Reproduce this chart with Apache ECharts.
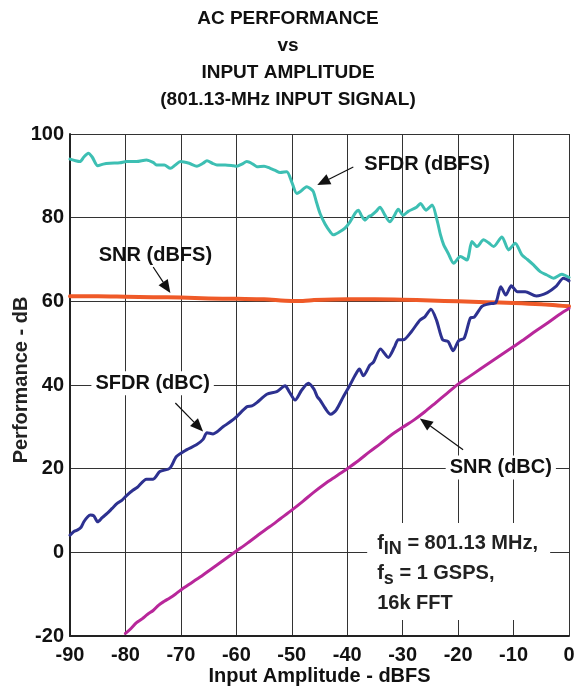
<!DOCTYPE html>
<html>
<head>
<meta charset="utf-8">
<script src="https://cdn.jsdelivr.net/npm/echarts@6/dist/echarts.min.js"></script>
<style>
html, body { margin: 0; padding: 0; background: #fff; }
#chart { width: 576px; height: 689px; }
</style>
</head>
<body>
<div id="chart"></div>
<script>
// values: [input amplitude dBFS, performance dB]
const sfdrDbfs = [
  [-90, 94.0], [-89, 93.6], [-88.2, 93.4], [-87.5, 94.5], [-86.7, 95.4], [-86, 94.5], [-85, 92.4],
  [-84, 92.8], [-82.8, 93.0], [-81, 93.1], [-79.8, 93.4], [-78, 93.4], [-76.2, 93.8], [-75, 93.2],
  [-74.4, 92.6], [-73, 92.6], [-71.9, 91.8], [-71, 92.6], [-70.1, 93.4], [-68.5, 93.0], [-67.1, 92.3],
  [-66, 93.0], [-65.3, 93.6], [-64.3, 93.0], [-63.5, 92.6], [-62, 92.6], [-60.5, 92.4], [-59.9, 92.3],
  [-59, 92.8], [-58.1, 93.4], [-57, 92.8], [-56.3, 92.2], [-55, 92.3], [-53.9, 91.8], [-53, 91.3],
  [-52.1, 90.8], [-50.9, 91.0], [-50, 88.5], [-49.1, 85.8], [-48.5, 86.2], [-47.3, 87.4], [-46.5, 86.8],
  [-46.1, 86.2], [-45.5, 83.5], [-44.9, 81.0], [-44, 78.5], [-43, 76.5], [-42.5, 75.9], [-41.5, 76.5],
  [-40.4, 77.5], [-39.5, 79], [-38.5, 81.2], [-38.0, 81.8], [-37.4, 80.4], [-36.8, 79.4], [-36.2, 80.2],
  [-35.6, 80.6], [-34.8, 81.5], [-34.1, 82.5], [-33.2, 80.6], [-32.3, 79.0], [-31.5, 80.5], [-30.8, 82.0],
  [-29.9, 80.6], [-29, 81.5], [-27.5, 82.5], [-26.8, 83.4], [-25.8, 81.8], [-24.7, 83.0], [-23.8, 79.4],
  [-23.2, 76], [-22.6, 73.5], [-21.8, 71.5], [-20.8, 69.1], [-19.6, 70.7], [-18.4, 69.9], [-17.5, 74.3],
  [-16.6, 73.1], [-15.4, 74.7], [-14.5, 74], [-13.6, 73.1], [-12.1, 75.4], [-10.9, 72.3], [-9.7, 73.9],
  [-8.5, 71.1], [-7.5, 70], [-6.4, 68.7], [-5.2, 67.1], [-4, 66.3], [-2.8, 65.5], [-1.3, 66.5], [0, 65.7]
];
const snrDbfs = [
  [-90, 61.2], [-85, 61.2], [-80, 61.1], [-75, 61.0], [-70, 60.9], [-65, 60.7], [-60, 60.6], [-55, 60.5],
  [-50, 60.1], [-48, 60.1], [-46, 60.3], [-40, 60.5], [-35, 60.5], [-30, 60.4], [-25, 60.2], [-20, 60.0],
  [-15, 59.8], [-10, 59.6], [-5, 59.3], [-2, 59.0], [0, 58.8]
];
const sfdrDbc = [
  [-90, 4.1], [-89.3, 5.0], [-88.7, 5.3], [-88, 6.0], [-87.5, 7.3], [-86.8, 8.5], [-86.3, 8.9], [-85.7, 8.7],
  [-85, 7.3], [-84.2, 8.3], [-83.3, 9.3], [-82.4, 10.5], [-81.5, 11.7], [-80.6, 12.5], [-79.7, 13.7],
  [-78.6, 14.9], [-77.9, 15.5], [-76.2, 17.5], [-75, 17.5], [-73.8, 19.3], [-72, 20.1], [-70.8, 22.9],
  [-69, 24.5], [-67.2, 25.7], [-66, 27], [-65.3, 28.6], [-64.2, 28.3], [-62.4, 30.0], [-60.3, 32.0],
  [-58.1, 34.8], [-57.2, 35.0], [-56.3, 35.8], [-54.5, 37.8], [-52.7, 38.4], [-51.2, 39.8], [-50.5, 38.5],
  [-49.4, 36.4], [-48.2, 38.8], [-47.0, 40.4], [-46, 39], [-45.4, 37.2], [-44.9, 36.4], [-44, 34.5],
  [-43.0, 33.0], [-42, 34.0], [-40.7, 37.2], [-39.5, 40.0], [-38.5, 42.5], [-37.8, 43.8], [-37.1, 42.2],
  [-35.9, 44.8], [-35.3, 45.4], [-34.0, 48.6], [-32.6, 46.6], [-31.5, 49], [-30.8, 50.8], [-29.9, 50.8],
  [-28.4, 52.8], [-26.9, 55.5], [-26.0, 56.3], [-24.9, 58.1], [-23.9, 55.5], [-22.8, 50.8], [-21.8, 50.4],
  [-20.9, 48.2], [-19.9, 50.6], [-18.9, 51.2], [-17.8, 56.0], [-17.1, 56.2], [-15.7, 58.8], [-14.4, 59.4],
  [-13.2, 59.7], [-12.3, 63.5], [-11.4, 61.5], [-10.4, 63.7], [-9.3, 62.3], [-7.9, 62.3], [-5.9, 61.3],
  [-3.9, 62.1], [-2.4, 63.5], [-1.0, 65.5], [0, 64.9]
];
const snrDbc = [
  [-80, -19.4], [-79, -18.2], [-78, -16.8], [-77, -15.9], [-76, -14.8], [-75, -13.9], [-74, -12.6],
  [-73, -11.7], [-72, -10.9], [-71, -10.0], [-70, -9.0], [-68, -7.2], [-66, -5.4], [-64, -3.5], [-62, -1.6],
  [-60, 0.3], [-58, 2.2], [-56, 4.2], [-54, 6.1], [-52, 8.1], [-50, 10.1], [-48, 12.2], [-46, 14.4],
  [-44, 16.4], [-42, 18.2], [-40, 20.0], [-38, 21.9], [-36, 24.0], [-34, 26.0], [-32, 28.1], [-30, 29.9],
  [-28, 31.6], [-26, 33.6], [-24, 35.8], [-22, 38.0], [-20, 40.2], [-18, 42.0], [-16, 43.8], [-14, 45.6],
  [-12, 47.4], [-10, 49.2], [-8, 51.0], [-6, 52.9], [-4, 54.7], [-2, 56.6], [-1, 57.5], [0, 58.3]
];

const xRange = [-90, 0, 10];
const yRange = [-20, 100, 20];

// curve labels: text, label centre, arrow start, arrow tip (data coords)
const callouts = [
  { text: 'SFDR (dBFS)', at: [-25.6, 92.8], from: [-38.9, 92.1], to: [-45.4, 87.8], bg: false },
  { text: 'SNR (dBFS)', at: [-74.6, 71.0], from: [-75.0, 68.2], to: [-71.9, 62.0], bg: false },
  { text: 'SFDR (dBC)', at: [-75.1, 40.4], from: [-71.0, 35.7], to: [-66.0, 28.9], bg: true },
  { text: 'SNR (dBC)', at: [-12.3, 20.3], from: [-19.1, 24.5], to: [-26.9, 32.0], bg: true }
];
const noteBox = [[-36.4, 7.0], [-3.4, -16.2]];
const noteAt = [-34.6, 2.2];

const FONT = "'Liberation Sans', Arial, Helvetica, sans-serif";

function lineSeries(name, data, color, width, smooth) {
  return {
    name: name,
    type: 'line',
    data: data,
    showSymbol: false,
    smooth: smooth,
    lineStyle: { color: color, width: width, cap: 'round', join: 'round' },
    z: 3
  };
}

const option = {
  backgroundColor: '#fff',
  animation: false,
  title: {
    text: 'AC PERFORMANCE\nvs\nINPUT AMPLITUDE\n(801.13-MHz INPUT SIGNAL)',
    left: 'center',
    top: 0,
    textStyle: { fontFamily: FONT, fontSize: 19, fontWeight: 'bold', color: '#111', lineHeight: 27 }
  },
  grid: { left: 70, right: 7, top: 134, bottom: 53, outerBoundsMode: 'none', containLabel: false },
  xAxis: {
    type: 'value',
    min: xRange[0],
    max: xRange[1],
    interval: xRange[2],
    name: 'Input Amplitude - dBFS',
    nameLocation: 'middle',
    nameGap: 30,
    nameMoveOverlap: false,
    nameTextStyle: { fontFamily: FONT, fontSize: 20, fontWeight: 'bold', color: '#111' },
    axisLine: { show: true, onZero: false, lineStyle: { color: '#222', width: 2 } },
    axisTick: { show: false },
    axisLabel: { fontFamily: FONT, fontSize: 20, fontWeight: 'bold', color: '#111', margin: 9 },
    splitLine: { show: true, lineStyle: { color: '#333', width: 1 } }
  },
  yAxis: {
    type: 'value',
    min: yRange[0],
    max: yRange[1],
    interval: yRange[2],
    name: 'Performance - dB',
    nameLocation: 'middle',
    nameGap: 39,
    nameMoveOverlap: false,
    nameRotate: 90,
    nameTextStyle: { fontFamily: FONT, fontSize: 20, fontWeight: 'bold', color: '#222', padding: [0, 0, 0, 10] },
    axisLine: { show: true, onZero: false, lineStyle: { color: '#222', width: 2 } },
    axisTick: { show: false },
    axisLabel: { fontFamily: FONT, fontSize: 20, fontWeight: 'bold', color: '#111', margin: 6 },
    splitLine: { show: true, lineStyle: { color: '#333', width: 1 } }
  },
  series: [
    lineSeries('SNR (dBFS)', snrDbfs, '#EF5A28', 4, 0.3),
    lineSeries('SFDR (dBFS)', sfdrDbfs, '#3DBFB3', 3, 0.25),
    lineSeries('SFDR (dBC)', sfdrDbc, '#2D3190', 3, 0.25),
    lineSeries('SNR (dBC)', snrDbc, '#B8279A', 3, 0.3)
  ]
};

const chart = echarts.init(document.getElementById('chart'));
chart.setOption(option);

const toPx = p => chart.convertToPixel({ gridIndex: 0 }, p);
const graphics = [];

const b0 = toPx(noteBox[0]), b1 = toPx(noteBox[1]);
graphics.push({
  type: 'rect',
  shape: { x: b0[0], y: b0[1], width: b1[0] - b0[0], height: b1[1] - b0[1] },
  style: { fill: '#fff' },
  z: 10
});
const n0 = toPx(noteAt);
graphics.push({
  type: 'text',
  x: n0[0],
  y: n0[1] - 15,
  style: {
    text: '{f|f}{s|IN}{t| = 801.13 MHz,}\n{f|f}{s|s}{t| = 1 GSPS,}\n{t|16k FFT}',
    fill: '#222',
    font: 'bold 20px ' + FONT,
    rich: {
      f: { fontFamily: FONT, fontSize: 20, fontWeight: 'bold', lineHeight: 30, fill: '#222' },
      t: { fontFamily: FONT, fontSize: 20, fontWeight: 'bold', lineHeight: 30, fill: '#222' },
      s: { fontFamily: FONT, fontSize: 18, fontWeight: 'bold', lineHeight: 18, padding: [12, 0, 0, 0], fill: '#222' }
    }
  },
  z: 11
});

callouts.forEach(c => {
  const a = toPx(c.at), s = toPx(c.from), t = toPx(c.to);
  const dx = t[0] - s[0], dy = t[1] - s[1];
  const len = Math.sqrt(dx * dx + dy * dy);
  const ux = dx / len, uy = dy / len;
  const head = 13, half = 5.5;
  const bx = t[0] - ux * head, by = t[1] - uy * head;
  graphics.push({
    type: 'line',
    shape: { x1: s[0], y1: s[1], x2: bx, y2: by },
    style: { stroke: '#111', lineWidth: 1.2 },
    z: 10
  });
  graphics.push({
    type: 'polygon',
    shape: { points: [[t[0], t[1]], [bx - uy * half, by + ux * half], [bx + uy * half, by - ux * half]] },
    style: { fill: '#111' },
    z: 10
  });
  graphics.push({
    type: 'text',
    x: a[0],
    y: a[1],
    style: {
      text: c.text,
      font: 'bold 20px ' + FONT,
      fill: '#111',
      align: 'center',
      verticalAlign: 'middle',
      backgroundColor: c.bg ? '#fff' : 'transparent',
      padding: c.bg ? [2, 4] : 0
    },
    z: 11
  });
});

chart.setOption({ graphic: graphics });
</script>
</body>
</html>
